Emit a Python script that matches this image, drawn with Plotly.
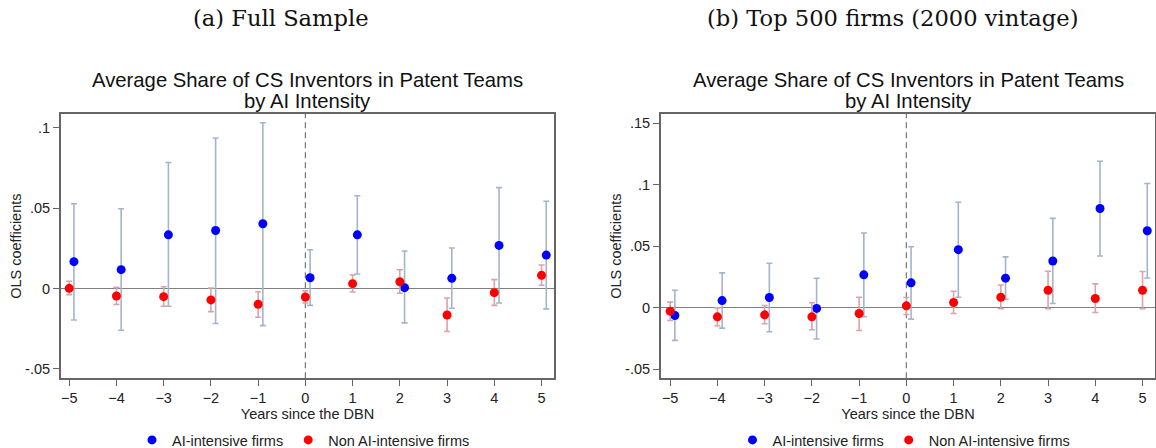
import plotly.graph_objects as go

years = [-5, -4, -3, -2, -1, 0, 1, 2, 3, 4, 5]
x_ticks = [-5, -4, -3, -2, -1, 0, 1, 2, 3, 4, 5]

# (a) Full sample
full_ai_coef = [0.0168, 0.0118, 0.0335, 0.0362, 0.0404, 0.0068, 0.0335, 0.0006, 0.0064, 0.0269, 0.0209]
full_ai_hi = [0.0528, 0.0497, 0.0785, 0.0938, 0.1033, 0.0242, 0.0578, 0.0234, 0.0253, 0.0629, 0.0544]
full_ai_lo = [-0.0195, -0.0259, -0.0110, -0.0217, -0.0230, -0.0104, 0.0091, -0.0213, -0.0122, -0.0089, -0.0126]
full_non_coef = [0.0002, -0.0046, -0.0050, -0.0070, -0.0097, -0.0052, 0.0031, 0.0043, -0.0164, -0.0025, 0.0083]
full_non_hi = [0.0046, 0.0008, 0.0012, 0.0004, -0.0019, -0.0014, 0.0085, 0.0118, -0.0058, 0.0056, 0.0147]
full_non_lo = [-0.0037, -0.0099, -0.0110, -0.0143, -0.0178, -0.0089, -0.0021, -0.0029, -0.0267, -0.0104, 0.0021]

# (b) Top 500 firms (2000 vintage)
top_ai_coef = [-0.0062, 0.0059, 0.0084, -0.0005, 0.0268, 0.0203, 0.0473, 0.0241, 0.0381, 0.0808, 0.0627]
top_ai_hi = [0.0143, 0.0284, 0.0362, 0.0241, 0.0608, 0.0497, 0.0859, 0.0414, 0.0727, 0.1192, 0.1011]
top_ai_lo = [-0.0265, -0.0165, -0.0195, -0.0254, -0.0073, -0.0092, 0.0086, 0.0070, 0.0035, 0.0422, 0.0243]
top_non_coef = [-0.0027, -0.0073, -0.0057, -0.0073, -0.0046, 0.0016, 0.0043, 0.0086, 0.0143, 0.0076, 0.0143]
top_non_hi = [0.0046, 0.0000, 0.0019, 0.0041, 0.0086, 0.0084, 0.0135, 0.0186, 0.0297, 0.0195, 0.0295]
top_non_lo = [-0.0103, -0.0146, -0.0130, -0.0178, -0.0184, -0.0054, -0.0046, -0.0008, -0.0008, -0.0038, -0.0008]

left_yticks = [-0.05, 0, 0.05, 0.1]
left_ylabels = ["-.05", "0", ".05", ".1"]
right_yticks = [-0.05, 0, 0.05, 0.1, 0.15]
right_ylabels = ["-.05", "0", ".05", ".1", ".15"]

panel_captions = ["(a) Full Sample", "(b) Top 500 firms (2000 vintage)"]
title_line1 = "Average Share of CS Inventors in Patent Teams"
title_line2 = "by AI Intensity"
x_title = "Years since the DBN"
y_title = "OLS coefficients"
series_names = ["AI-intensive firms", "Non AI-intensive firms"]

BLUE = "#0000FF"
RED = "#FF0000"
BLUE_BAR = "#A3B5C9"
RED_BAR = "#D9A3AA"
AI_SHIFT = 0.1

W, H = 1156, 448
FONT = "Liberation Sans, Arial, sans-serif"
TXT = "#222222"

fig = go.Figure()


def add_panel(ai_c, ai_lo, ai_hi, non_c, non_lo, non_hi, xa, ya, legend):
    ai_x = [y + AI_SHIFT for y in years]
    fig.add_trace(go.Scatter(
        x=ai_x, y=ai_c, mode="markers", name=series_names[0],
        marker=dict(color=BLUE, size=9),
        error_y=dict(type="data", symmetric=False,
                     array=[h - c for h, c in zip(ai_hi, ai_c)],
                     arrayminus=[c - l for c, l in zip(ai_c, ai_lo)],
                     color=BLUE_BAR, thickness=1.6, width=3),
        xaxis=xa, yaxis=ya, legend=legend))
    fig.add_trace(go.Scatter(
        x=years, y=non_c, mode="markers", name=series_names[1],
        marker=dict(color=RED, size=9),
        error_y=dict(type="data", symmetric=False,
                     array=[h - c for h, c in zip(non_hi, non_c)],
                     arrayminus=[c - l for c, l in zip(non_c, non_lo)],
                     color=RED_BAR, thickness=1.6, width=3),
        xaxis=xa, yaxis=ya, legend=legend))


add_panel(full_ai_coef, full_ai_lo, full_ai_hi, full_non_coef, full_non_lo, full_non_hi, "x", "y", "legend")
add_panel(top_ai_coef, top_ai_lo, top_ai_hi, top_non_coef, top_non_lo, top_non_hi, "x2", "y2", "legend2")

ydom = [1 - 378.3 / H, 1 - 114 / H]
left_dom = [60.7 / W, 554.3 / W]
right_dom = [660.7 / W, 1155.3 / W]

axis_common = dict(
    showline=True, mirror=True, linecolor="#666666", linewidth=1.5,
    showgrid=False, ticks="outside", ticklen=6, tickwidth=1, tickcolor="#666666",
    tickfont=dict(family=FONT, size=14.5, color=TXT), automargin=False,
)

leg_common = dict(orientation="h", xanchor="center", y=1 - 440 / H, yanchor="middle",
                  font=dict(family=FONT, size=14.5, color=TXT),
                  bgcolor="rgba(0,0,0,0)", itemwidth=30, tracegroupgap=0)

fig.update_layout(
    width=W, height=H, autosize=False,
    margin=dict(l=0, r=0, t=0, b=0, pad=0, autoexpand=False),
    paper_bgcolor="white", plot_bgcolor="white",
    showlegend=True,
    xaxis=dict(domain=left_dom, range=[-5.18, 5.27], tickvals=x_ticks, zeroline=False,
               title=dict(text=x_title, font=dict(family=FONT, size=14.5, color=TXT), standoff=0),
               anchor="y", **axis_common),
    yaxis=dict(domain=ydom, range=[-0.0558, 0.1087], tickvals=left_yticks, ticktext=left_ylabels,
               zeroline=True, zerolinecolor="#808080", zerolinewidth=1.2,
               title=dict(text=y_title, font=dict(family=FONT, size=14.5, color=TXT), standoff=0),
               anchor="x", **axis_common),
    xaxis2=dict(domain=right_dom, range=[-5.2, 5.27], tickvals=x_ticks, zeroline=False,
                title=dict(text=x_title, font=dict(family=FONT, size=14.5, color=TXT), standoff=0),
                anchor="y2", **axis_common),
    yaxis2=dict(domain=ydom, range=[-0.0573, 0.1576], tickvals=right_yticks, ticktext=right_ylabels,
                zeroline=True, zerolinecolor="#808080", zerolinewidth=1.2,
                title=dict(text=y_title, font=dict(family=FONT, size=14.5, color=TXT), standoff=0),
                anchor="x2", **axis_common),
    legend=dict(x=(left_dom[0] + left_dom[1]) / 2 - 4 / W, **leg_common),
    legend2=dict(x=(right_dom[0] + right_dom[1]) / 2 - 4 / W, **leg_common),
)

# dashed reference line at event time 0
for xr, yr in [("x", "y domain"), ("x2", "y2 domain")]:
    fig.add_shape(type="line", xref=xr, yref=yr, x0=0, x1=0, y0=0, y1=1,
                  line=dict(color="#777777", width=1.2, dash="6px,4px"), layer="below")

# captions and titles
for cx, cap in zip([281, 892], panel_captions):
    fig.add_annotation(x=cx / W, y=1 - 18 / H, xref="paper", yref="paper", text=cap, showarrow=False,
                       xanchor="center", yanchor="middle",
                       font=dict(family="DejaVu Serif, Liberation Serif, serif", size=22.6, color="#111111"))
for cx in [308, 908]:
    fig.add_annotation(x=cx / W, y=1 - 80 / H, xref="paper", yref="paper", text=title_line1, showarrow=False,
                       xanchor="center", yanchor="middle", font=dict(family=FONT, size=20.3, color="#111111"))
    fig.add_annotation(x=cx / W, y=1 - 101 / H, xref="paper", yref="paper", text=title_line2, showarrow=False,
                       xanchor="center", yanchor="middle", font=dict(family=FONT, size=20.3, color="#111111"))

fig.write_html("out.html")
